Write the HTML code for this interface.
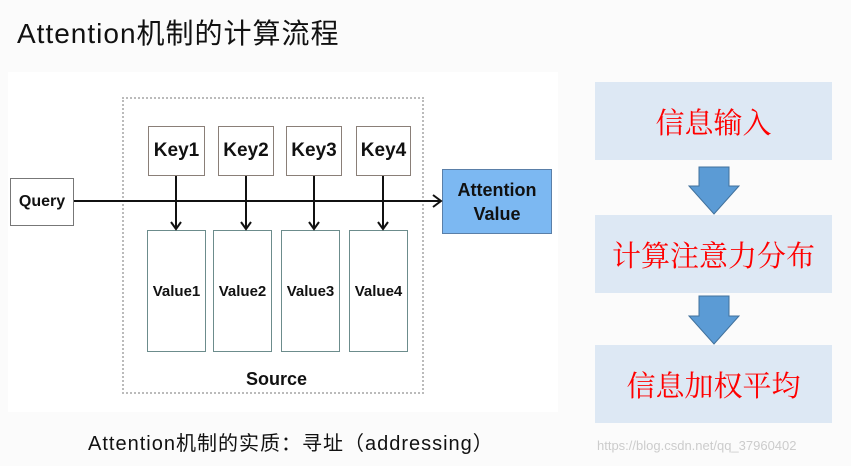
<!DOCTYPE html>
<html><head><meta charset="utf-8"><style>
body{margin:0;width:851px;height:466px;background:#fbfbfb;position:relative;overflow:hidden;font-family:"Liberation Sans","Noto Sans CJK SC",sans-serif}
.a{position:absolute}
.k{position:absolute;border:1.5px solid #8a7f78;background:#fff;display:flex;align-items:center;justify-content:center;font-weight:bold;font-size:19px;color:#111;box-sizing:border-box}
.v{position:absolute;border:1.5px solid #6c8c8c;background:#fff;display:flex;align-items:center;justify-content:center;font-weight:bold;font-size:15px;color:#111;box-sizing:border-box;top:230px;height:122px}
.r{position:absolute;left:595px;width:237px;height:78px;background:#dde8f4;color:#f00;font-family:"Noto Serif CJK SC",serif;font-size:29px;display:flex;align-items:center;justify-content:center}
</style></head><body>
<div class="a" style="left:17px;top:12px;font-size:28px;letter-spacing:1px;color:#111">Attention机制的计算流程</div>
<div class="a" style="left:8px;top:72px;width:550px;height:340px;background:#fff"></div>
<div class="a" style="left:122px;top:97px;width:302px;height:297px;border:2px dotted #bbb;box-sizing:border-box"></div>
<div class="k" style="left:10px;top:178px;width:64px;height:48px;font-size:16px;border-color:#777">Query</div>
<div class="k" style="left:148px;top:126px;width:57px;height:50px">Key1</div>
<div class="k" style="left:218px;top:126px;width:56px;height:50px">Key2</div>
<div class="k" style="left:286px;top:126px;width:56px;height:50px">Key3</div>
<div class="k" style="left:356px;top:126px;width:55px;height:50px">Key4</div>
<div class="v" style="left:147px;width:59px">Value1</div>
<div class="v" style="left:213px;width:59px">Value2</div>
<div class="v" style="left:281px;width:59px">Value3</div>
<div class="v" style="left:349px;width:59px">Value4</div>
<div class="k" style="left:442px;top:169px;width:110px;height:65px;background:#7cb8f2;border-color:#5a7fa8;font-size:18px;line-height:24px;text-align:center">Attention<br>Value</div>
<svg class="a" style="left:0;top:0" width="851" height="466">
<g stroke="#111" stroke-width="2" fill="none">
<line x1="74" y1="201" x2="440" y2="201"/><polyline points="433,195 441,201 433,207"/>
<line x1="176" y1="176" x2="176" y2="229"/><polyline points="171,222 176,229 181,222"/>
<line x1="246" y1="176" x2="246" y2="229"/><polyline points="241,222 246,229 251,222"/>
<line x1="314" y1="176" x2="314" y2="229"/><polyline points="309,222 314,229 319,222"/>
<line x1="383" y1="176" x2="383" y2="229"/><polyline points="378,222 383,229 388,222"/>
</g>
<g fill="#5b9bd5" stroke="#41719c" stroke-width="1">
<polygon points="699,167 729,167 729,186 739,186 714,214 689,186 699,186"/>
<polygon points="699,296 729,296 729,316 739,316 714,344 689,316 699,316"/>
</g>
</svg>
<div class="a" style="left:246px;top:369px;font-weight:bold;font-size:18px;color:#111">Source</div>
<div class="r" style="top:82px">信息输入</div>
<div class="r" style="top:215px">计算注意力分布</div>
<div class="r" style="top:345px">信息加权平均</div>
<div class="a" style="left:88px;top:427px;font-size:20px;letter-spacing:1px;color:#111">Attention机制的实质：寻址（addressing）</div>
<div class="a" style="left:597px;top:438px;font-size:13px;color:#ccc">https://blog.csdn.net/qq_37960402</div>
</body></html>
